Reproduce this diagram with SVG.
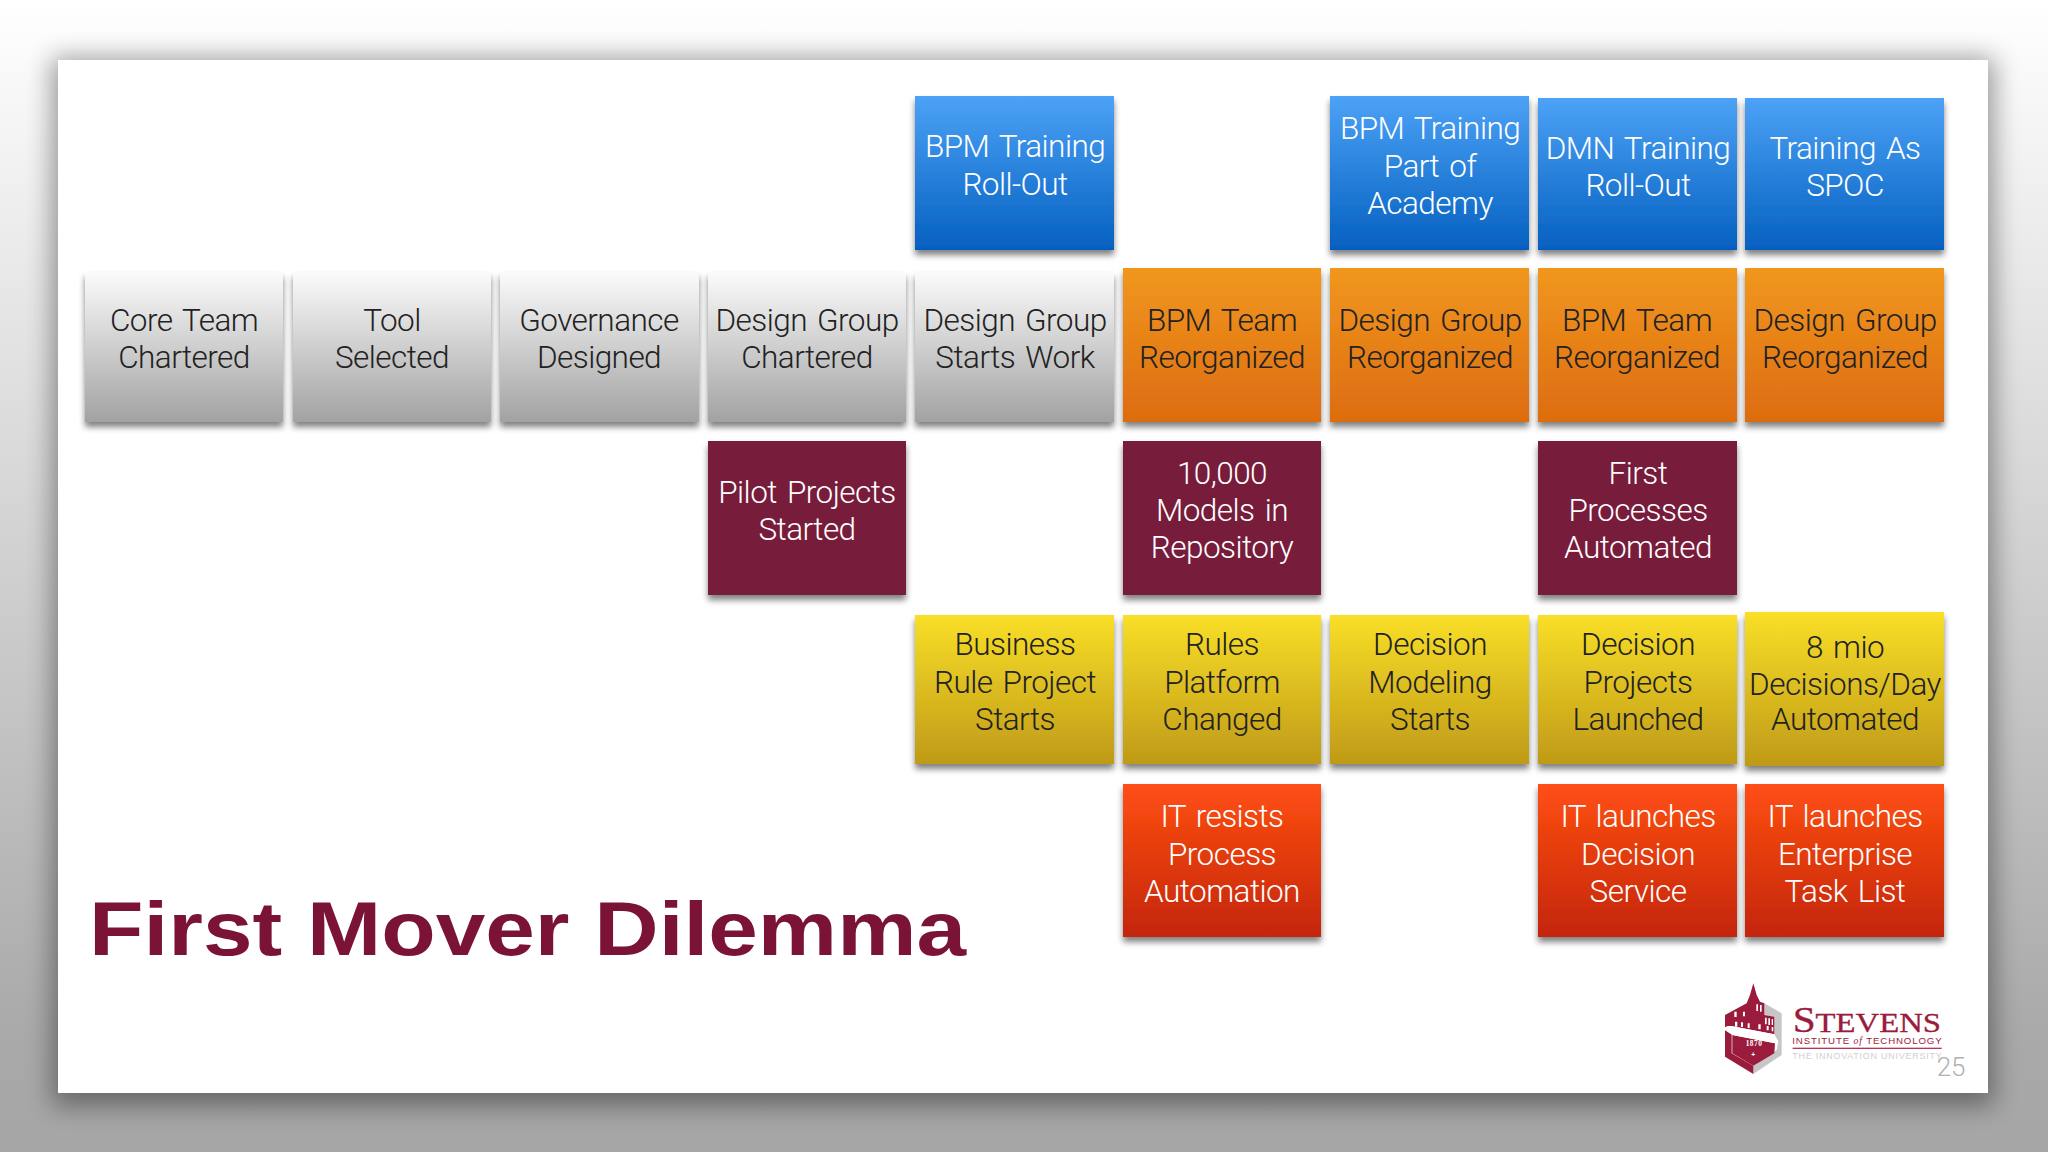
<svg xmlns="http://www.w3.org/2000/svg" width="2048" height="1152" viewBox="0 0 2048 1152">
<style>
.t{font-family:"Roboto","Liberation Sans",sans-serif;font-weight:300;font-size:31.5px;text-anchor:middle;letter-spacing:-.55px;word-spacing:3px}
.d{fill:#222}.w{fill:#fff}
.b{filter:url(#sh)}
.win{fill:#fff}
</style>
<defs>
<linearGradient id="bg" x1="0" y1="0" x2="0" y2="1"><stop offset="0" stop-color="#fff"/><stop offset=".9" stop-color="#a9a9a9"/><stop offset="1" stop-color="#a6a6a6"/></linearGradient>
<linearGradient id="gBlue" x1="0" y1="0" x2="0" y2="1"><stop offset="0" stop-color="#4ca2f6"/><stop offset="1" stop-color="#0560c0"/></linearGradient>
<linearGradient id="gGray" x1="0" y1="0" x2="0" y2="1"><stop offset="0" stop-color="#fbfbfb"/><stop offset="1" stop-color="#a2a2a2"/></linearGradient>
<linearGradient id="gOrange" x1="0" y1="0" x2="0" y2="1"><stop offset="0" stop-color="#f1971f"/><stop offset="1" stop-color="#dd6c10"/></linearGradient>
<linearGradient id="gYellow" x1="0" y1="0" x2="0" y2="1"><stop offset="0" stop-color="#f9df27"/><stop offset="1" stop-color="#bf9a18"/></linearGradient>
<linearGradient id="gRed" x1="0" y1="0" x2="0" y2="1"><stop offset="0" stop-color="#ff4f14"/><stop offset="1" stop-color="#c32507"/></linearGradient>
<filter id="sh" x="-10%" y="-10%" width="120%" height="125%"><feGaussianBlur in="SourceAlpha" stdDeviation="3"/><feOffset dy="5"/><feComponentTransfer><feFuncA type="linear" slope=".5"/></feComponentTransfer><feMerge><feMergeNode/><feMergeNode in="SourceGraphic"/></feMerge></filter>
<filter id="slideSh" x="-5%" y="-8%" width="110%" height="116%"><feGaussianBlur stdDeviation="13"/></filter>
</defs>
<rect width="2048" height="1152" fill="url(#bg)"/>
<rect x="52" y="58" width="1942" height="1048" fill="#000" opacity=".38" filter="url(#slideSh)"/>
<rect x="58" y="60" width="1930" height="1033" fill="#fff"/>

<g id="n-bpm-training"><rect class="b" x="915" y="96" width="199" height="154" fill="url(#gBlue)"/><text class="t w" x="1015" y="157">BPM Training</text><text class="t w" x="1015" y="195">Roll-Out</text></g>
<g id="n-bpm-academy"><rect class="b" x="1330" y="96" width="199" height="154" fill="url(#gBlue)"/><text class="t w" x="1430" y="139">BPM Training</text><text class="t w" x="1430" y="177">Part of</text><text class="t w" x="1430" y="214">Academy</text></g>
<g id="n-dmn-training"><rect class="b" x="1538" y="98" width="199" height="152" fill="url(#gBlue)"/><text class="t w" x="1638" y="159">DMN Training</text><text class="t w" x="1638" y="196">Roll-Out</text></g>
<g id="n-training-spoc"><rect class="b" x="1745" y="98" width="199" height="152" fill="url(#gBlue)"/><text class="t w" x="1845" y="159">Training As</text><text class="t w" x="1845" y="196">SPOC</text></g>

<g id="n-core-team"><rect class="b" x="85" y="272" width="198" height="150" fill="url(#gGray)"/><text class="t d" x="184" y="331">Core Team</text><text class="t d" x="184" y="368">Chartered</text></g>
<g id="n-tool"><rect class="b" x="293" y="272" width="198" height="150" fill="url(#gGray)"/><text class="t d" x="392" y="331">Tool</text><text class="t d" x="392" y="368">Selected</text></g>
<g id="n-governance"><rect class="b" x="500" y="272" width="199" height="150" fill="url(#gGray)"/><text class="t d" x="599" y="331">Governance</text><text class="t d" x="599" y="368">Designed</text></g>
<g id="n-dg-chartered"><rect class="b" x="708" y="272" width="198" height="150" fill="url(#gGray)"/><text class="t d" x="807" y="331">Design Group</text><text class="t d" x="807" y="368">Chartered</text></g>
<g id="n-dg-starts"><rect class="b" x="915" y="272" width="199" height="150" fill="url(#gGray)"/><text class="t d" x="1015" y="331">Design Group</text><text class="t d" x="1015" y="368">Starts Work</text></g>
<g id="n-bpm-reorg1"><rect class="b" x="1123" y="268" width="198" height="154" fill="url(#gOrange)"/><text class="t d" x="1222" y="331">BPM Team</text><text class="t d" x="1222" y="368">Reorganized</text></g>
<g id="n-dg-reorg1"><rect class="b" x="1330" y="268" width="199" height="154" fill="url(#gOrange)"/><text class="t d" x="1430" y="331">Design Group</text><text class="t d" x="1430" y="368">Reorganized</text></g>
<g id="n-bpm-reorg2"><rect class="b" x="1538" y="268" width="199" height="154" fill="url(#gOrange)"/><text class="t d" x="1637" y="331">BPM Team</text><text class="t d" x="1637" y="368">Reorganized</text></g>
<g id="n-dg-reorg2"><rect class="b" x="1745" y="268" width="199" height="154" fill="url(#gOrange)"/><text class="t d" x="1845" y="331">Design Group</text><text class="t d" x="1845" y="368">Reorganized</text></g>

<g id="n-pilot"><rect class="b" x="708" y="441" width="198" height="154" fill="#781a3a"/><text class="t w" x="807" y="503">Pilot Projects</text><text class="t w" x="807" y="540">Started</text></g>
<g id="n-10000"><rect class="b" x="1123" y="441" width="198" height="154" fill="#781a3a"/><text class="t w" x="1222" y="484">10,000</text><text class="t w" x="1222" y="521">Models in</text><text class="t w" x="1222" y="558">Repository</text></g>
<g id="n-first-processes"><rect class="b" x="1538" y="441" width="199" height="154" fill="#781a3a"/><text class="t w" x="1638" y="484">First</text><text class="t w" x="1638" y="521">Processes</text><text class="t w" x="1638" y="558">Automated</text></g>

<g id="n-brp"><rect class="b" x="915" y="615" width="199" height="149" fill="url(#gYellow)"/><text class="t d" x="1015" y="655">Business</text><text class="t d" x="1015" y="693">Rule Project</text><text class="t d" x="1015" y="730">Starts</text></g>
<g id="n-rules"><rect class="b" x="1123" y="615" width="198" height="149" fill="url(#gYellow)"/><text class="t d" x="1222" y="655">Rules</text><text class="t d" x="1222" y="693">Platform</text><text class="t d" x="1222" y="730">Changed</text></g>
<g id="n-modeling"><rect class="b" x="1330" y="615" width="199" height="149" fill="url(#gYellow)"/><text class="t d" x="1430" y="655">Decision</text><text class="t d" x="1430" y="693">Modeling</text><text class="t d" x="1430" y="730">Starts</text></g>
<g id="n-projects"><rect class="b" x="1538" y="615" width="199" height="149" fill="url(#gYellow)"/><text class="t d" x="1638" y="655">Decision</text><text class="t d" x="1638" y="693">Projects</text><text class="t d" x="1638" y="730">Launched</text></g>
<g id="n-8mio"><rect class="b" x="1745" y="612" width="199" height="154" fill="url(#gYellow)"/><text class="t d" x="1845" y="658">8 mio</text><text class="t d" x="1845" y="695">Decisions/Day</text><text class="t d" x="1845" y="730">Automated</text></g>

<g id="n-it-resists"><rect class="b" x="1123" y="784" width="198" height="153" fill="url(#gRed)"/><text class="t w" x="1222" y="827">IT resists</text><text class="t w" x="1222" y="865">Process</text><text class="t w" x="1222" y="902">Automation</text></g>
<g id="n-it-decision"><rect class="b" x="1538" y="784" width="199" height="153" fill="url(#gRed)"/><text class="t w" x="1638" y="827">IT launches</text><text class="t w" x="1638" y="865">Decision</text><text class="t w" x="1638" y="902">Service</text></g>
<g id="n-it-task"><rect class="b" x="1745" y="784" width="199" height="153" fill="url(#gRed)"/><text class="t w" x="1845" y="827">IT launches</text><text class="t w" x="1845" y="865">Enterprise</text><text class="t w" x="1845" y="902">Task List</text></g>

<text id="title" x="89" y="955" font-family="Liberation Sans, sans-serif" font-weight="700" font-size="76" fill="#7a1335" textLength="877" lengthAdjust="spacingAndGlyphs">First Mover Dilemma</text>

<g id="logo">
<g transform="translate(1680 960) scale(.3333)">
<g transform="translate(105 45)">
<path d="M148 85L200 115V240L115 297V272L185 225L190 200L178 180V125L148 120Z" fill="#c6c6c6"/>
<path d="M30 120L95 85L105 60L115 25L125 60L135 80L148 85V120L178 125V178L60 155Q35 150 30 158Z" fill="#9b1b3c"/>
<path d="M30 165L50 178V235L115 272V297L30 245Z" fill="#9b1b3c"/>
<path d="M52 180L180 205L178 235L115 272L52 235Z" fill="#9b1b3c"/>
<path d="M30 158Q35 150 60 155L178 178L190 200L180 205L52 180L30 165Z" fill="#fff"/>
<path class="win" d="M58 110h7v16h-7zM84 110h6v14h-6zM124 88h5v20h-5zM135 90h5v20h-5zM150 128h5v20h-5zM160 130h5v20h-5zM170 132h4v18h-4zM60 140h7v15h-7zM78 142h6v14h-6zM98 145h6v14h-6zM130 148h7v15h-7zM155 153h6v13h-6zM170 156h5v13h-5z"/>
<text x="117" y="213" font-family="Liberation Serif, serif" font-weight="700" font-size="22" fill="#fff" text-anchor="middle" letter-spacing="1.5">1870</text>
<text x="115" y="245" font-family="Liberation Sans, sans-serif" font-weight="700" font-size="20" fill="#fff" text-anchor="middle">+</text>
</g>
<text x="338" y="216" font-family="Liberation Serif, serif" fill="#9b1b3c" textLength="445" lengthAdjust="spacingAndGlyphs" stroke="#9b1b3c" stroke-width="1"><tspan font-size="106">S</tspan><tspan font-size="84">TEVENS</tspan></text>
<text x="337" y="252" font-family="Liberation Sans, sans-serif" font-size="29" fill="#9b1b3c" textLength="448">INSTITUTE <tspan font-family="Liberation Serif, serif" font-style="italic">of</tspan> TECHNOLOGY</text>
<rect x="338" y="263" width="447" height="4" fill="#b5365a"/>
<text x="337" y="297" font-family="Liberation Sans, sans-serif" font-size="27" fill="#cfcfcf" textLength="448">THE INNOVATION UNIVERSITY</text>
<text x="770" y="347" font-family="Roboto, Liberation Sans, sans-serif" font-weight="300" font-size="78" fill="#b0b0b0">25</text>
</g>
</g>
</svg>
